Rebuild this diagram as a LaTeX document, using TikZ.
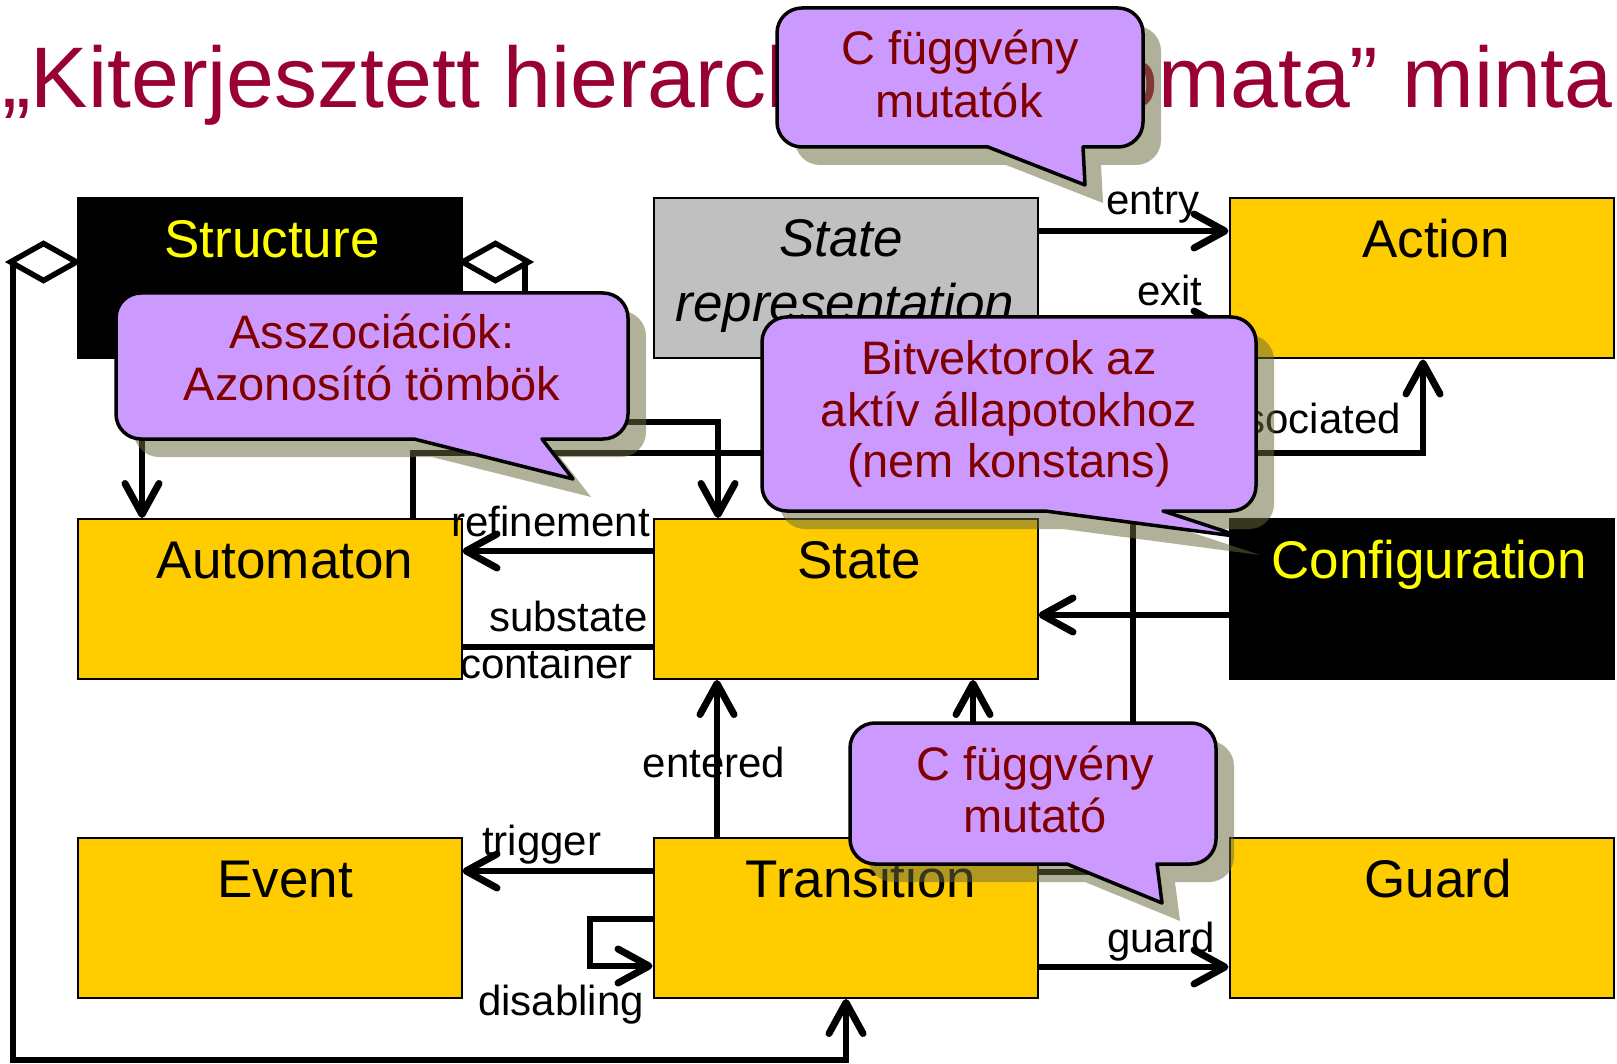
\documentclass[tikz,border=0pt]{standalone}
\usepackage{fontspec}
\setmainfont{Liberation Sans}
\usetikzlibrary{arrows.meta}

\definecolor{boxyellow}{HTML}{FFCC00}
\definecolor{boxgray}{HTML}{C0C0C0}
\definecolor{labelyellow}{HTML}{FFFF00}
\definecolor{bubblefill}{HTML}{CC99FF}
\definecolor{bubbletext}{HTML}{800000}
\definecolor{shadowcol}{HTML}{6B6B3D}
\definecolor{titlecol}{HTML}{990033}

% speech bubble outline: left, top, right, bottom, tail base left, tail base right, tip x, tip y
\newcommand{\speechpath}[8]{%
  (#1+25,#2) -- (#3-25,#2) arc[start angle=-90,end angle=0,radius=25]
  -- (#3,#4-25) arc[start angle=0,end angle=90,radius=25]
  -- (#6,#4) -- (#7,#8) -- (#5,#4)
  -- (#1+25,#4) arc[start angle=90,end angle=180,radius=25]
  -- (#1,#2+25) arc[start angle=180,end angle=270,radius=25] -- cycle}

\begin{document}
\begin{tikzpicture}[x=1pt,y=-1pt,
  box/.style={draw=black,line width=2pt,minimum width=384pt,minimum height=160pt,inner sep=0pt},
  conn/.style={line width=5.5pt,black},
  arr/.style={-{Straight Barb[length=31pt,width=34pt,line width=7pt,round]}},
  diam/.style={draw=black,fill=white,line width=5.5pt},
  boxlabel/.style={font=\fontsize{53}{60}\selectfont,inner sep=0pt,anchor=base},
  conlabel/.style={font=\fontsize{42}{48}\selectfont,inner sep=0pt},
  bubble/.style={fill=bubblefill,draw=black,line width=3.5pt,line join=round},
  bshadow/.style={fill=shadowcol,fill opacity=0.52,shift={(18,18)}},
  btext/.style={font=\fontsize{47}{52}\selectfont,text=bubbletext,inner sep=0pt,anchor=base}
]
\useasboundingbox (0,0) rectangle (1617,1064);
\fill[white] (0,0) rectangle (1617,1064);

% title
\node[font=\fontsize{86}{100}\selectfont,text=titlecol,anchor=base west,inner sep=0pt]
  (title) at (2,108) {„Kiterjesztett hierarchikus automata” minta};

% classes
\node[box,fill=black]      (structure)  at (269.5,278.5) {};
\node[box,fill=boxgray]    (staterep)   at (845.5,278.5) {};
\node[box,fill=boxyellow]  (action)     at (1421.5,278.5) {};
\node[box,fill=boxyellow]  (automaton)  at (269.5,599) {};
\node[box,fill=boxyellow]  (state)      at (845.5,599) {};
\node[box,fill=black]      (config)     at (1421.5,599) {};
\node[box,fill=boxyellow]  (event)      at (269.5,918) {};
\node[box,fill=boxyellow]  (transition) at (845.5,918) {};
\node[box,fill=boxyellow]  (guard)      at (1421.5,918) {};

\node[boxlabel,text=labelyellow] (structure-l) at (272,258) {Structure};
\node[boxlabel,font=\fontsize{53}{60}\selectfont\itshape] (staterep-l1) at (841,257) {State};
\node[boxlabel,font=\fontsize{53}{60}\selectfont\itshape] (staterep-l2) at (845,322) {representation};
\node[boxlabel] (action-l) at (1436,258) {Action};
\node[boxlabel] (automaton-l) at (285,578) {Automaton};
\node[boxlabel] (state-l) at (859,578) {State};
\node[boxlabel,text=labelyellow] (config-l) at (1429,578) {Configuration};
\node[boxlabel] (event-l) at (285,897) {Event};
\node[boxlabel] (transition-l) at (861,897) {Transition};
\node[boxlabel] (guard-l) at (1438,897) {Guard};

% associations
\draw[conn,arr] (structure.west |- 0,262) -- (13,262) -- (13,1060) -- (846,1060)
  -- (transition.south -| 846,0);
\draw[conn,arr] (structure.east |- 0,262) -- (525,262) -- (525,422) -- (718,422)
  -- (state.north -| 718,0);
\draw[conn,arr] (structure.south -| 142,0) -- (automaton.north -| 142,0);
\draw[conn,arr] (automaton.north -| 413,0) -- (413,453) -- (1423,453)
  -- (action.south -| 1423,0);
\draw[conn,arr] (state.west |- 0,551) -- (automaton.east |- 0,551);
\draw[conn] (automaton.east |- 0,647) -- (state.west |- 0,647);
\draw[conn,arr] (staterep.east |- 0,231) -- (action.west |- 0,231);
\draw[conn,arr] (staterep.east |- 0,328) -- (action.west |- 0,328);
\draw[conn,arr] (config.west |- 0,615) -- (state.east |- 0,615);
\draw[conn,arr] (transition.north -| 717,0) -- (state.south -| 717,0);
\draw[conn,arr] (transition.north -| 973,0) -- (state.south -| 973,0);
\draw[conn,arr] (transition.west |- 0,871) -- (event.east |- 0,871);
\draw[conn,arr] (transition.west |- 0,919) -- (590,919) -- (590,966)
  -- (transition.west |- 0,966);
\draw[conn,arr] (transition.east |- 0,967) -- (guard.west |- 0,967);
\coordinate (effectend) at (1133,470);
\draw[conn] (transition.east |- 0,872) -- (1133,872) -- (effectend);

% aggregation diamonds
\draw[diam] (structure.west |- 0,262) -- ++(-33,-18.5) -- ++(-33,18.5)
  -- ++(33,18.5) -- cycle;
\draw[diam] (structure.east |- 0,262) -- ++(33,-18.5) -- ++(33,18.5)
  -- ++(-33,18.5) -- cycle;

% role names
\node[conlabel,anchor=base east] (refinement-l) at (650,536) {refinement};
\node[conlabel,anchor=base east] (substate-l) at (648,631) {substate};
\node[conlabel,anchor=base west] (container-l) at (460,678) {container};
\node[conlabel,anchor=base west] (entry-l) at (1106,215) {entry};
\node[conlabel,anchor=base west] (exit-l) at (1137,306) {exit};
\node[conlabel,anchor=base east] (assoc-l) at (1401,433) {associated};
\node[conlabel,anchor=base] (entered-l) at (714,777) {entered};
\node[conlabel,anchor=base west] (trigger-l) at (482,855) {trigger};
\node[conlabel,anchor=base west] (disabling-l) at (478,1015) {disabling};
\node[conlabel,anchor=base west] (guardrole-l) at (1107,952) {guard};

% callouts
\path[bshadow] \speechpath{777}{8}{1143}{147}{988}{1083}{1085}{185};
\path[bubble]  \speechpath{777}{8}{1143}{147}{988}{1083}{1085}{185};
\node[btext] (b1a) at (960,65) {C függvény};
\node[btext] (b1b) at (959,118) {mutatók};

\path[bshadow] \speechpath{116}{293}{628}{439}{414}{542}{573}{479};
\path[bubble]  \speechpath{116}{293}{628}{439}{414}{542}{573}{479};
\node[btext] (b2a) at (372,349) {Asszociációk:};
\node[btext] (b2b) at (372,400) {Azonosító tömbök};

\path[bshadow] \speechpath{762}{317}{1256}{511}{1045}{1163}{1242}{537};
\path[bubble]  \speechpath{762}{317}{1256}{511}{1045}{1163}{1242}{537};
\node[btext] (b3a) at (1009,375) {Bitvektorok az};
\node[btext] (b3b) at (1009,426) {aktív állapotokhoz};
\node[btext] (b3c) at (1009,477) {(nem konstans)};

\path[bshadow] \speechpath{850}{723}{1216}{864}{1067}{1157}{1162}{903};
\path[bubble]  \speechpath{850}{723}{1216}{864}{1067}{1157}{1162}{903};
\node[btext] (b4a) at (1035,780) {C függvény};
\node[btext] (b4b) at (1035,832) {mutató};
\end{tikzpicture}
\end{document}
